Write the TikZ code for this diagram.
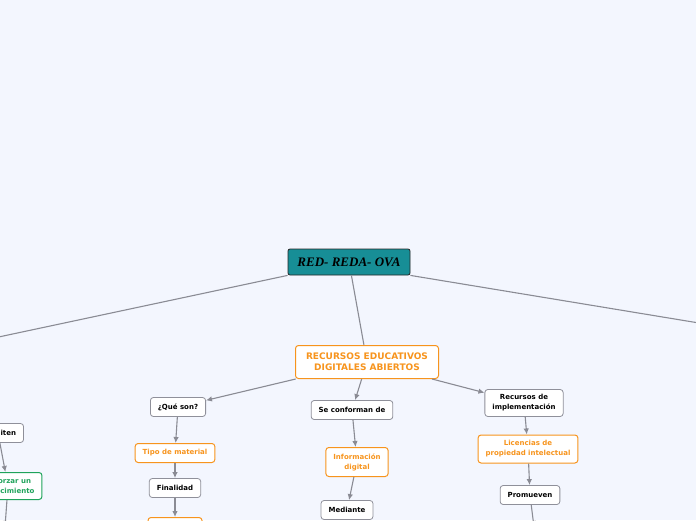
\documentclass[tikz,border=0pt]{standalone}
\usepackage{fontspec}
\setmainfont{DejaVu Sans}
\newfontfamily\rootfont{Liberation Serif}
\usepackage{xcolor}
\usepackage{tikz}
\usetikzlibrary{positioning,arrows.meta}

\definecolor{mapbg}{HTML}{F3F6FE}
\definecolor{mapteal}{HTML}{178E96}
\definecolor{maporange}{HTML}{F7941D}
\definecolor{mapgreen}{HTML}{1FA35B}
\definecolor{linkgray}{HTML}{8A8B94}
\definecolor{boxgray}{HTML}{8F909A}

\begin{document}
\begin{tikzpicture}[x=1pt,y=-1pt,>={Latex[length=6pt,width=5.5pt]},
  box/.style={draw=boxgray,fill=white,rounded corners=3pt,line width=0.8pt,
    font=\fontsize{7}{10}\selectfont\bfseries,inner xsep=7.5pt,inner ysep=2pt,
    minimum height=19pt,align=center},
  orbox/.style={box,draw=maporange,text=maporange,line width=1pt},
  grbox/.style={box,draw=mapgreen,text=mapgreen,line width=1pt},
  link/.style={draw=linkgray,line width=1.1pt},
  arr/.style={link,->}]
  \fill[mapbg] (0,0) rectangle (696,520);
  \useasboundingbox (0,0) rectangle (696,520);

  % central topic and main branch
  \node[draw=black!85,fill=mapteal,rounded corners=2pt,line width=0.8pt,
    font=\rootfont\bfseries\itshape\fontsize{13}{15}\selectfont,
    minimum width=122pt,minimum height=26pt] (root) at (349,262) {RED- REDA- OVA};
  \node[orbox,font=\fontsize{9}{11}\selectfont\bfseries,minimum width=143pt,
    minimum height=33pt] (rea) at (367,362) {RECURSOS EDUCATIVOS\\DIGITALES ABIERTOS};

  % branches leaving the page
  \coordinate (offleft) at (-114,361);
  \coordinate (offright) at (796,339);
  \draw[link] (root.south west) -- (offleft);
  \draw[link] (root.south east) -- (offright);
  \draw[link] (root) -- (rea);

  % subtopics
  \node[box] (queson) at (178,407) {¿Qué son?};
  \node[orbox] (tipo) at (175,453) {Tipo de material};
  \node[box] (finalidad) at (175,488) {Finalidad};
  \node[orbox,minimum width=54pt] (objetivo) at (175,527) {};
  \node[box] (conforman) at (352,410) {Se conforman de};
  \node[orbox,minimum height=29pt] (info) at (357,462) {Información\\digital};
  \node[box] (mediante) at (347,510) {Mediante};
  \node[box,minimum height=27pt] (implem) at (524,403) {Recursos de\\implementación};
  \node[orbox,minimum height=28pt] (licencias) at (528,449) {Licencias de\\propiedad intelectual};
  \node[box] (promueven) at (530,495) {Promueven};
  \coordinate (promnext) at (534,527);
  \node[box] (permiten) at (-2,433) {Permiten};
  \node[grbox,minimum height=27pt] (reforzar) at (8,486) {Reforzar un\\conocimiento};
  \coordinate (refnext) at (5,527);

  \draw[arr] (rea) -- (queson);
  \draw[arr] (rea) -- (conforman);
  \draw[arr] (rea) -- (implem);
  \draw[arr] (queson) -- (tipo);
  \draw[arr] (tipo) -- (finalidad);
  \draw[arr] (finalidad) -- (objetivo);
  \draw[arr] (conforman) -- (info);
  \draw[arr] (info) -- (mediante);
  \draw[arr] (implem) -- (licencias);
  \draw[arr] (licencias) -- (promueven);
  \draw[arr] (promueven) -- (promnext);
  \draw[arr] (permiten) -- (reforzar);
  \draw[arr] (reforzar) -- (refnext);
\end{tikzpicture}
\end{document}
